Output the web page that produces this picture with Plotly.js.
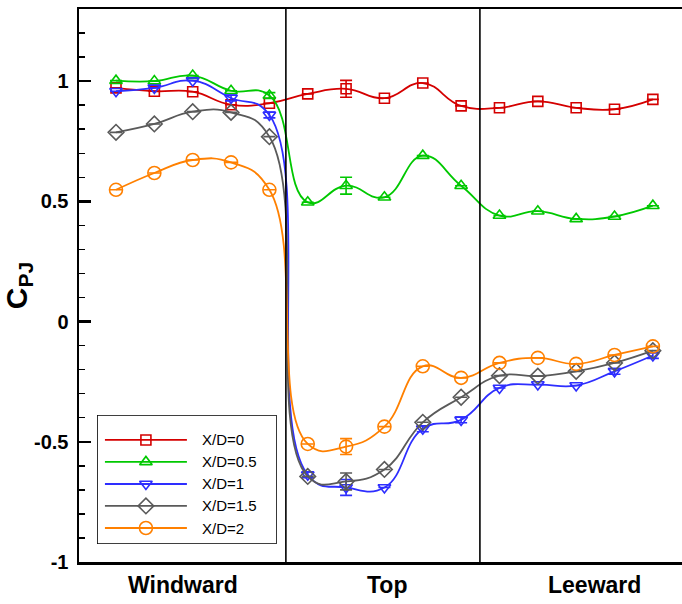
<!DOCTYPE html>
<html>
<head>
<meta charset="utf-8">
<script src="https://cdn.plot.ly/plotly-3.0.1.min.js"></script>
<style>
  html, body { margin: 0; padding: 0; background: #ffffff; }
  #chart { width: 682px; height: 604px; }
</style>
</head>
<body>
<div id="chart"></div>
<script>
// Measurement stations along the surface (windward 1-5, top 6-10, leeward 11-15)
const stations = [1, 2, 3, 4, 5, 6, 7, 8, 9, 10, 11, 12, 13, 14, 15];
const regionLabels = ['Windward', 'Top', 'Leeward'];
const seriesNames = ['X/D=0', 'X/D=0.5', 'X/D=1', 'X/D=1.5', 'X/D=2'];

// Mean pressure coefficient C_PJ for each downstream position
const cpXD0  = [0.972, 0.958, 0.956, 0.902, 0.908, 0.947, 0.968, 0.929, 0.992, 0.897, 0.889, 0.916, 0.889, 0.883, 0.924];
const cpXD05 = [1.002, 1.000, 1.023, 0.960, 0.940, 0.496, 0.565, 0.517, 0.690, 0.565, 0.441, 0.459, 0.427, 0.437, 0.482];
const cpXD1  = [0.958, 0.972, 1.002, 0.930, 0.859, -0.637, -0.690, -0.690, -0.446, -0.409, -0.276, -0.262, -0.266, -0.207, -0.141];
const cpXD15 = [0.787, 0.822, 0.873, 0.870, 0.769, -0.644, -0.665, -0.615, -0.419, -0.315, -0.225, -0.227, -0.207, -0.172, -0.121];
const cpXD2  = [0.548, 0.618, 0.672, 0.662, 0.548, -0.509, -0.520, -0.437, -0.186, -0.234, -0.172, -0.151, -0.176, -0.139, -0.103];

// Scatter (± one standard deviation) at each station
const errXD0  = [0, 0, 0, 0, 0, 0, 0.035, 0, 0, 0, 0, 0, 0, 0, 0];
const errXD05 = [0, 0, 0, 0, 0.012, 0, 0.035, 0, 0, 0, 0, 0, 0, 0, 0];
const errXD1  = [0, 0, 0, 0.012, 0.012, 0.012, 0.033, 0, 0.012, 0.012, 0, 0, 0, 0.012, 0.012];
const errXD15 = [0, 0, 0, 0, 0, 0, 0.035, 0, 0, 0, 0, 0, 0, 0, 0];
const errXD2  = [0, 0, 0, 0, 0, 0, 0.033, 0, 0, 0, 0, 0, 0, 0, 0];

const yTickVals = [-1, -0.5, 0, 0.5, 1];
const yTickText = ['-1', '-0.5', '0', '0.5', '1'];

const seriesValues = [cpXD0, cpXD05, cpXD1, cpXD15, cpXD2];
const seriesErrors = [errXD0, errXD05, errXD1, errXD15, errXD2];
const colors = ['#d40000', '#00c800', '#2e2eff', '#5a5a5a', '#ff8000'];
const symbols = ['square-open', 'triangle-up-open', 'triangle-down-open', 'diamond-open', 'circle-open'];
const sizes = [10, 11, 11, 12, 13];

const FONT = 'Liberation Sans, Arial, Helvetica, sans-serif';

const traces = [];
seriesValues.forEach((vals, i) => {
  traces.push({
    type: 'scatter',
    mode: 'lines+markers',
    x: stations,
    y: vals,
    name: seriesNames[i],
    showlegend: false,
    line: { color: colors[i], width: 1.8, shape: 'spline', smoothing: 1.3 },
    marker: { symbol: symbols[i], size: sizes[i], color: colors[i], line: { width: 1.6, color: colors[i] } },
    error_y: { type: 'data', array: seriesErrors[i], visible: true, color: colors[i], thickness: 1.6, width: 6 },
    cliponaxis: false
  });
});

// Key: a line segment with a marker in its middle for each series, drawn in a small inset frame
const keyRows = [0.806, 0.636, 0.465, 0.295, 0.124];
seriesNames.forEach((name, i) => {
  traces.push({
    type: 'scatter', mode: 'lines', xaxis: 'x2', yaxis: 'y2',
    x: [0.044, 0.5], y: [keyRows[i], keyRows[i]],
    line: { color: colors[i], width: 1.8 }, showlegend: false, hoverinfo: 'skip'
  });
  traces.push({
    type: 'scatter', mode: 'markers', xaxis: 'x2', yaxis: 'y2',
    x: [0.272], y: [keyRows[i]],
    marker: { symbol: symbols[i], size: sizes[i], color: colors[i], line: { width: 1.6, color: colors[i] } },
    showlegend: false, hoverinfo: 'skip'
  });
});

const annotations = [];
// Region names under the axis
const regionCenters = [2.75, 8.07, 13.49];
regionLabels.forEach((t, i) => {
  annotations.push({
    text: '<b>' + t + '</b>', x: regionCenters[i], xref: 'x', y: -0.042, yref: 'paper',
    xanchor: 'center', yanchor: 'middle', showarrow: false,
    font: { family: FONT, size: 23, color: '#000' }
  });
});
// Key labels
seriesNames.forEach((name, i) => {
  annotations.push({
    text: name, x: 0.572, xref: 'x2', y: keyRows[i], yref: 'y2',
    xanchor: 'left', yanchor: 'middle', showarrow: false,
    font: { family: FONT, size: 15, color: '#000' }
  });
});

const layout = {
  width: 682,
  height: 604,
  margin: { l: 79, r: 0, t: 9, b: 42 },
  paper_bgcolor: '#ffffff',
  plot_bgcolor: '#ffffff',
  showlegend: false,
  font: { family: FONT, color: '#000' },
  xaxis: {
    range: [0.035, 15.76],
    showgrid: false, zeroline: false,
    showline: true, mirror: true, linecolor: '#000', linewidth: 2.5,
    ticks: '', showticklabels: false
  },
  yaxis: {
    range: [-1, 1.3],
    showgrid: false, zeroline: false,
    showline: true, mirror: false, linecolor: '#000', linewidth: 2.5,
    tickmode: 'array', tickvals: yTickVals, ticktext: yTickText,
    ticks: 'inside', ticklen: 12, tickwidth: 2.5, tickcolor: '#000',
    tickfont: { family: FONT, size: 20, weight: 'bold', color: '#000' },
    ticklabelstandoff: 4,
    minor: { dtick: 0.1, tick0: 0, ticks: 'inside', ticklen: 6, tickwidth: 1.5, tickcolor: '#000', showgrid: false },
    title: { text: '<b>C<sub>PJ</sub></b>', font: { family: FONT, size: 30, color: '#000' }, standoff: 8 }
  },
  xaxis2: { domain: [0.0299, 0.328], range: [0, 1], anchor: 'y2', visible: false, fixedrange: true },
  yaxis2: { domain: [0.0325, 0.266], range: [0, 1], anchor: 'x2', visible: false, fixedrange: true },
  shapes: [
    { type: 'line', xref: 'x', yref: 'paper', x0: 5.43, x1: 5.43, y0: 0, y1: 1, line: { color: '#000', width: 1.6 } },
    { type: 'line', xref: 'x', yref: 'paper', x0: 10.49, x1: 10.49, y0: 0, y1: 1, line: { color: '#000', width: 1.6 } },
    { type: 'rect', xref: 'x2', yref: 'y2', x0: 0, x1: 1, y0: 0, y1: 1, line: { color: '#000', width: 1.6 }, fillcolor: '#ffffff', layer: 'below' }
  ],
  annotations: annotations
};

Plotly.newPlot('chart', traces, layout, { staticPlot: true, displayModeBar: false });
</script>
</body>
</html>
